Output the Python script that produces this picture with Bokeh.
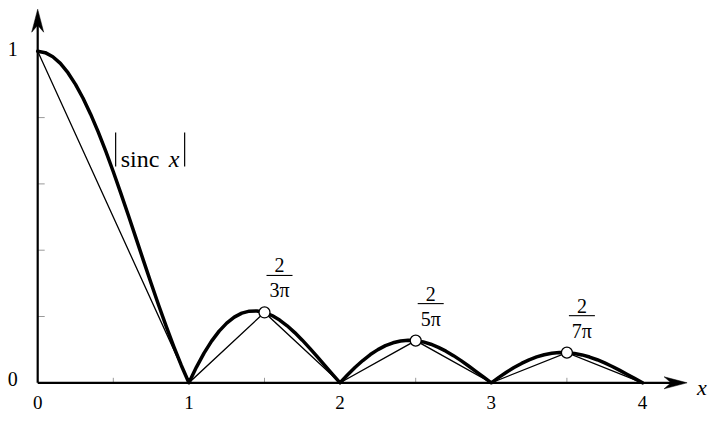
from bokeh.plotting import figure
from bokeh.models import Range1d
from bokeh.core.properties import value
from bokeh.embed import file_html
from bokeh.resources import INLINE

# ---------------- data ----------------
x_vals = [0.00, 0.05, 0.10, 0.15, 0.20, 0.25, 0.30, 0.35, 0.40, 0.45,
          0.50, 0.55, 0.60, 0.65, 0.70, 0.75, 0.80, 0.85, 0.90, 0.95,
          1.00, 1.05, 1.10, 1.15, 1.20, 1.25, 1.30, 1.35, 1.40, 1.45,
          1.50, 1.55, 1.60, 1.65, 1.70, 1.75, 1.80, 1.85, 1.90, 1.95,
          2.00, 2.05, 2.10, 2.15, 2.20, 2.25, 2.30, 2.35, 2.40, 2.45,
          2.50, 2.55, 2.60, 2.65, 2.70, 2.75, 2.80, 2.85, 2.90, 2.95,
          3.00, 3.05, 3.10, 3.15, 3.20, 3.25, 3.30, 3.35, 3.40, 3.45,
          3.50, 3.55, 3.60, 3.65, 3.70, 3.75, 3.80, 3.85, 3.90, 3.95,
          4.00]
sinc_abs = [1.0000, 0.9959, 0.9836, 0.9634, 0.9355, 0.9003, 0.8584, 0.8103, 0.7568, 0.6987,
            0.6366, 0.5716, 0.5046, 0.4363, 0.3679, 0.3001, 0.2339, 0.1700, 0.1093, 0.0524,
            0.0000, 0.0474, 0.0894, 0.1257, 0.1559, 0.1801, 0.1981, 0.2101, 0.2162, 0.2168,
            0.2122, 0.2028, 0.1892, 0.1719, 0.1515, 0.1286, 0.1039, 0.0781, 0.0518, 0.0255,
            0.0000, 0.0243, 0.0468, 0.0672, 0.0851, 0.1000, 0.1120, 0.1207, 0.1261, 0.1283,
            0.1273, 0.1233, 0.1164, 0.1070, 0.0954, 0.0819, 0.0668, 0.0507, 0.0339, 0.0169,
            0.0000, 0.0163, 0.0317, 0.0459, 0.0585, 0.0693, 0.0780, 0.0847, 0.0890, 0.0911,
            0.0910, 0.0886, 0.0841, 0.0777, 0.0696, 0.0600, 0.0492, 0.0375, 0.0252, 0.0126,
            0.0000]
chord_x = [0, 1, 1.5, 2, 2.5, 3, 3.5, 4]
chord_y = [1.0, 0.0, 0.2122, 0.0, 0.1273, 0.0, 0.0909, 0.0]
peak_x = [1.5, 2.5, 3.5]
peak_y = [0.2122, 0.1273, 0.0909]
peak_num = ["2", "2", "2"]
peak_den = ["3π", "5π", "7π"]
x_ticks = [0, 1, 2, 3, 4]
x_tick_labels = ["0", "1", "2", "3", "4"]
x_minor = [0.5, 1.5, 2.5, 3.5]
y_ticks = [0, 1]
y_tick_labels = ["0", "1"]
y_minor = [0.2, 0.4, 0.6, 0.8]

# ---------------- geometry (pixels) ----------------
W, H = 711, 414
X0PX, Y0PX = 37.2, 382.3      # pixel of the origin inside the figure
XS, YS = 151.2, 331.5         # pixels per unit
def dx(px): return px / XS
def dy(px): return px / YS

p = figure(width=W, height=H, output_backend="svg", toolbar_location=None,
           x_axis_location=None, y_axis_location=None, min_border=0,
           x_range=Range1d((0 - X0PX) / XS, (W - X0PX) / XS),
           y_range=Range1d((Y0PX - H) / YS, (Y0PX - 0) / YS))
p.grid.visible = False
p.outline_line_color = None
p.background_fill_color = "white"
p.border_fill_color = "white"

FONT = value("Liberation Serif")
AX_W = 2.2
x_end = 4.295
y_end = 1.127
A_LEN, A_HALF, A_NOTCH = 23, 6, 16

# minor ticks
p.segment(x0=x_minor, y0=[0] * 4, x1=x_minor, y1=[dy(5)] * 4, line_color="#9a9a9a", line_width=1)
p.segment(x0=[0] * 4, y0=y_minor, x1=[dx(7)] * 4, y1=y_minor, line_color="#9a9a9a", line_width=1)

# axes
p.line([0, x_end - dx(A_NOTCH - 8)], [0, 0], line_color="black", line_width=AX_W)
p.line([0, 0], [0, y_end - dy(A_NOTCH - 8)], line_color="black", line_width=AX_W)
p.patch([x_end, x_end - dx(A_LEN), x_end - dx(A_NOTCH), x_end - dx(A_LEN)],
        [0, dy(A_HALF), 0, -dy(A_HALF)], fill_color="black", line_color="black", line_width=0.5)
p.patch([0, dx(A_HALF), 0, -dx(A_HALF)],
        [y_end, y_end - dy(A_LEN), y_end - dy(A_NOTCH), y_end - dy(A_LEN)],
        fill_color="black", line_color="black", line_width=0.5)

# chords and curve
p.line(chord_x, chord_y, line_color="black", line_width=1.3, line_join="miter")
p.line(x_vals, sinc_abs, line_color="black", line_width=3.5, line_join="round", line_cap="round")
p.scatter(peak_x, peak_y, size=11, fill_color="white", line_color="black", line_width=1.3)

# fraction labels above the peaks
lab_x = [x + dx(15) for x in peak_x]
p.text(lab_x, peak_y, text=peak_num, y_offset=-47, text_font=FONT, text_font_size="20px",
       text_align="center", text_baseline="middle", text_color="black")
p.segment(x0=[x - dx(13) for x in lab_x], y0=[y + dy(37) for y in peak_y],
          x1=[x + dx(13) for x in lab_x], y1=[y + dy(37) for y in peak_y],
          line_color="black", line_width=1.1)
p.text(lab_x, peak_y, text=peak_den, y_offset=-22, text_font=FONT, text_font_size="20px",
       text_align="center", text_baseline="middle", text_color="black")

# |sinc x| label
sx, sy = 0.5155, 0.704
p.segment(x0=[sx, sx + dx(69)], y0=[sy + dy(17)] * 2, x1=[sx, sx + dx(69)], y1=[sy - dy(17)] * 2,
          line_color="black", line_width=1.2)
p.text([sx], [sy], text=["sinc"], x_offset=5, y_offset=10, text_font=FONT, text_font_size="24px",
       text_align="left", text_baseline="alphabetic", text_color="black")
p.text([sx], [sy], text=["x"], x_offset=53, y_offset=10, text_font=FONT, text_font_size="24px",
       text_font_style="italic", text_align="left", text_baseline="alphabetic", text_color="black")

# tick labels
p.text(x_ticks, [0] * 5, text=x_tick_labels, y_offset=20, text_font=FONT, text_font_size="19px",
       text_align="center", text_baseline="middle", text_color="black")
p.text([0, 0], y_ticks, text=y_tick_labels, x_offset=-25, y_offset=[-4, -2], text_font=FONT,
       text_font_size="20px", text_align="center", text_baseline="middle", text_color="black")
p.text([x_end], [0], text=["x"], x_offset=10, y_offset=5, text_font=FONT, text_font_size="22px",
       text_font_style="italic", text_align="left", text_baseline="alphabetic", text_color="black")

open("out.html", "w").write(file_html(p, INLINE))
